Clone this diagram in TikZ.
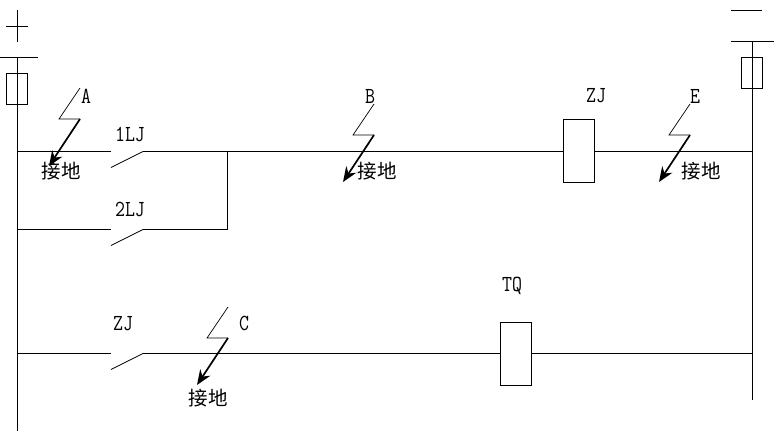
\documentclass[tikz,border=0pt]{standalone}
\usepackage{fontspec}
\newfontfamily\cjk{Noto Sans CJK SC}
\newfontfamily\tagfont[FakeStretch=0.84]{Latin Modern Mono}
\usetikzlibrary{arrows.meta}
\tikzset{
    wire/.style={line width=0.9pt},
    coil/.style={draw, line width=0.9pt, inner sep=0pt, minimum width=31pt, minimum height=63pt},
    fuse/.style={draw, line width=0.9pt, inner sep=0pt, minimum width=21pt, minimum height=31pt},
    tag/.style={inner sep=0pt, font=\tagfont\fontsize{23}{23}\selectfont},
    earth/.style={inner sep=0pt, font=\cjk\fontsize{19.5}{20}\selectfont},
    blade/.style={line width=0.8pt},
    bolt/.style={line width=0.7pt},
    strike/.style={line width=1.7pt, -{Stealth[length=15pt, width=12pt]}}
}

\begin{document}
\begin{tikzpicture}[x=1pt, y=-1pt]
    % Page size
    \useasboundingbox (0, 0) rectangle (784, 437);

    % Left bus and plus sign
    \coordinate (plustop) at (17.5, 10);
    \coordinate (plusbot) at (17.5, 42);
    \coordinate (plusl) at (6, 26.5);
    \coordinate (plusr) at (28, 26.5);
    \coordinate (barl) at (0, 57.5);
    \coordinate (barlr) at (38, 57.5);
    \coordinate (ltop) at (17.5, 57.5);
    \coordinate (lbot) at (17.5, 431);
    \draw[wire] (plustop) -- (plusbot);
    \draw[wire] (plusl) -- (plusr);
    \draw[wire] (barl) -- (barlr);
    \draw[wire] (ltop) -- (lbot);
    \node[fuse] (fusel) at (17, 89) {};

    % Right bus and minus sign
    \coordinate (minusl) at (731, 10.5);
    \coordinate (minusr) at (762, 10.5);
    \coordinate (barrl) at (731, 41.5);
    \coordinate (barr) at (774, 41.5);
    \coordinate (rtop) at (752.5, 41.5);
    \coordinate (rbot) at (752.5, 400);
    \draw[wire] (minusl) -- (minusr);
    \draw[wire] (barrl) -- (barr);
    \draw[wire] (rtop) -- (rbot);
    \node[fuse] (fuser) at (752, 73) {};

    % Coils
    \node[coil] (zjcoil) at (579, 151) {};
    \node[coil] (tqcoil) at (516, 354) {};

    % Contacts: left wire end, fixed end, blade tip
    \foreach \name/\y in {one/151.5, two/229.5, three/353.5} {
        \coordinate (\name l) at (17.5, \y);
        \coordinate (\name a) at (111, \y);
        \coordinate (\name b) at (143, \y);
        \coordinate (\name t) at (111, \y+16);
        \draw[wire] (\name l) -- (\name a);
        \draw[blade] (\name t) -- (\name b);
    }

    % Rows
    \coordinate (oner) at (752.5, 151.5);
    \coordinate (threer) at (752.5, 353.5);
    \coordinate (jointa) at (227.5, 151.5);
    \coordinate (jointb) at (227.5, 229.5);
    \draw[wire] (oneb) -- (zjcoil.west |- oneb);
    \draw[wire] (zjcoil.east |- oner) -- (oner);
    \draw[wire] (twob) -- (jointb) -- (jointa);
    \draw[wire] (threeb) -- (tqcoil.west |- threeb);
    \draw[wire] (tqcoil.east |- threer) -- (threer);

    % Faults
    \foreach \name/\x/\y in {A/80/88, B/374/104, E/690/104, C/228/307} {
        \coordinate (\name s) at (\x, \y);
        \coordinate (\name m) at (\x-21, \y+31);
        \coordinate (\name k) at (\x, \y+31);
        \coordinate (\name e) at (\x-31, \y+78);
        \draw[bolt] (\name s) -- (\name m) -- (\name k);
        \draw[strike] (\name k) -- (\name e);
    }

    % Labels
    \node[tag] (labelA) at (86, 96) {A};
    \node[tag] (labelB) at (370, 96) {B};
    \node[tag] (labelE) at (695, 96) {E};
    \node[tag] (labelC) at (244, 323) {C};
    \node[tag] (labelone) at (130, 134) {1LJ};
    \node[tag] (labeltwo) at (130, 209) {2LJ};
    \node[tag] (labelzj) at (596, 96) {ZJ};
    \node[tag] (labelzjb) at (123, 324) {ZJ};
    \node[tag] (labeltq) at (512, 286) {TQ};
    \node[earth] (earthA) at (61, 171) {接地};
    \node[earth] (earthB) at (377, 171) {接地};
    \node[earth] (earthE) at (701, 171) {接地};
    \node[earth] (earthC) at (208, 398) {接地};
\end{tikzpicture}
\end{document}
